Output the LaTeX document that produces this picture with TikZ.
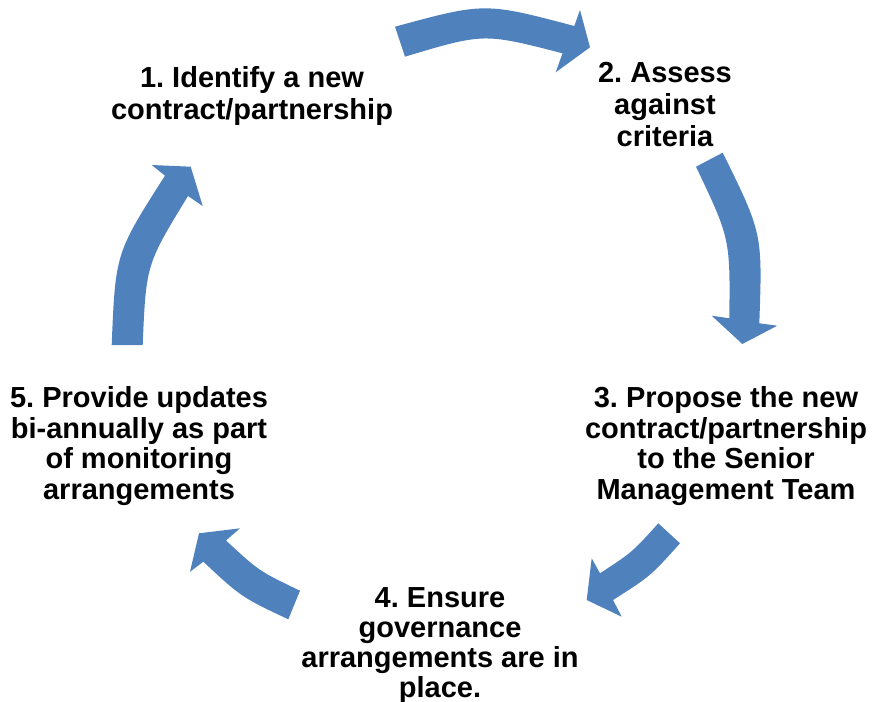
\documentclass[tikz,border=0pt]{standalone}
\usepackage{fontspec}
\setmainfont{Liberation Sans}
\definecolor{cyclblue}{RGB}{79,129,189}
\frenchspacing
\begin{document}
\begin{tikzpicture}[x=1pt,y=-1pt,
  arrowbody/.style={fill=cyclblue},
  steptext/.style={align=center,inner sep=0pt,anchor=north,text=black,
    font=\frenchspacing\bfseries\fontsize{29}{#1}\selectfont}]
\useasboundingbox (0,0) rectangle (872,701);
% arrows
\fill[arrowbody] (395,26.7) .. controls (484.65,2.35) .. (574.3,26) -- (580,10) -- (590,47.3)
  -- (555.7,72.3) -- (562.5,53.3) .. controls (483.75,33) .. (405,56.7) -- cycle;
\fill[arrowbody] (722.7,152.7) .. controls (762.5,233.4) .. (759.3,323.3) -- (777.3,325.7)
  -- (742.3,344) -- (711.7,315.7) -- (729.3,318.3) .. controls (730.2,238.6) .. (696,166.7) -- cycle;
\fill[arrowbody] (680,543.3) .. controls (650.4,576.2) .. (613,600) -- (621.7,616.7)
  -- (586.7,600) -- (591.7,558.3) -- (600,573.3) .. controls (632.4,552.1) .. (658.3,523.3) -- cycle;
\fill[arrowbody] (288.3,619.3) .. controls (241.3,597.1) .. (203.3,561.7) -- (190,571.7)
  -- (199,533.3) -- (240,528.3) -- (226,540.5) .. controls (259.2,571.2) .. (300,590.7) -- cycle;
\fill[arrowbody] (111.7,345) .. controls (115.45,253.15) .. (165,175.7) -- (151.7,165)
  -- (190.7,166.7) -- (202.7,206) -- (188,196) .. controls (146.05,264.6) .. (142.7,345) -- cycle;
% texts
\node[steptext=32.5] (n1) at (252,65.8) {1. Identify a new\\contract/partnership};
\node[steptext=32] (n2) at (665,62.2) {2. Assess\\against\\criteria};
\node[steptext=30.5] (n3) at (726,386.7) {3. Propose the new\\contract/partnership\\to the Senior\\Management Team};
\node[steptext=30] (n4) at (440,587.2) {4. Ensure\\governance\\arrangements are in\\place.};
\node[steptext=30.5] (n5) at (139,386.7) {5. Provide updates\\bi-annually as part\\of monitoring\\arrangements};
\end{tikzpicture}
\end{document}
